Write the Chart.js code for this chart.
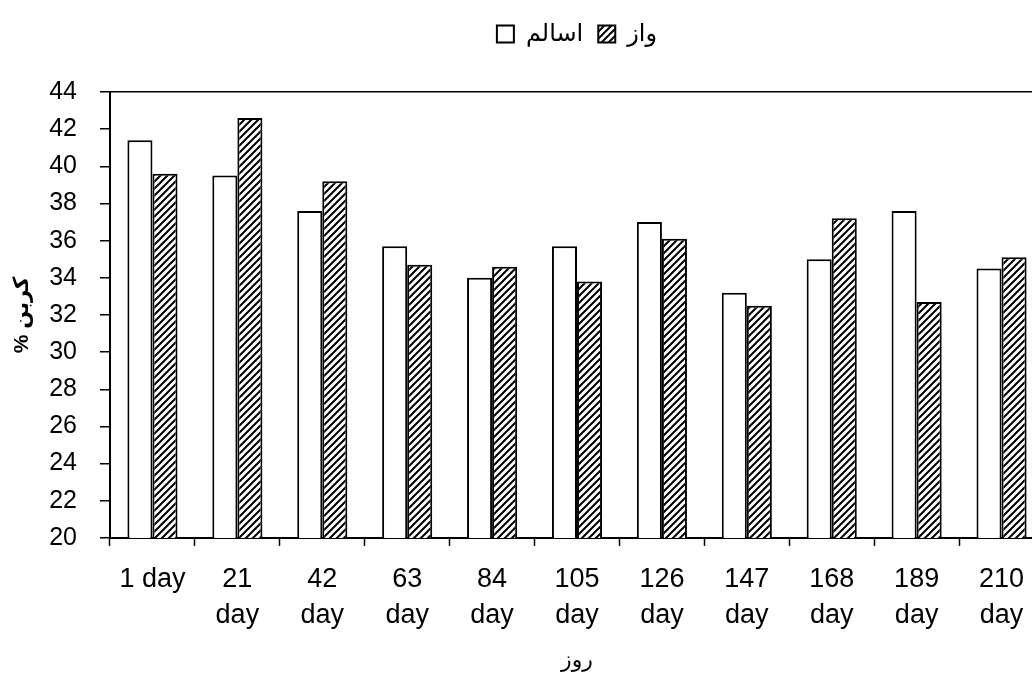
<!DOCTYPE html>
<html>
<head>
<meta charset="utf-8">
<script src="https://cdn.jsdelivr.net/npm/chart.js@4"></script>
<style>
  html, body { margin: 0; padding: 0; background: #fff; overflow: hidden; }
  #wrap { width: 1046px; height: 673px; }
</style>
</head>
<body>
<div id="wrap"><canvas id="carbonChart" width="1046" height="673"></canvas></div>
<script>
// sampling days (x axis)
const dayLabels = ['1 day', ['21', 'day'], ['42', 'day'], ['63', 'day'], ['84', 'day'], ['105', 'day'],
    ['126', 'day'], ['147', 'day'], ['168', 'day'], ['189', 'day'], ['210', 'day']];

// carbon % per group
const healthyValues = [41.4, 39.5, 37.6, 35.7, 34.0, 35.7, 37.0, 33.2, 35.0, 37.6, 34.5];
const waxValues = [39.6, 42.6, 39.2, 34.7, 34.6, 33.8, 36.1, 32.5, 37.2, 32.7, 35.1];

const seriesNames = ['اسالم', 'واز'];
const yTicks = { min: 20, max: 44, step: 2 };

const FONT = "Arial, 'Liberation Sans', 'DejaVu Sans', sans-serif";

// diagonal hatch for the second series
function makeHatch() {
    const c = document.createElement('canvas');
    c.width = 7;
    c.height = 7;
    const g = c.getContext('2d');
    g.fillStyle = '#fff';
    g.fillRect(0, 0, 7, 7);
    g.strokeStyle = '#000';
    g.lineWidth = 2;
    g.beginPath();
    g.moveTo(-1, 8); g.lineTo(8, -1);
    g.moveTo(-4, 4); g.lineTo(4, -4);
    g.moveTo(3, 11); g.lineTo(11, 3);
    g.stroke();
    return document.getElementById('carbonChart').getContext('2d').createPattern(c, 'repeat');
}

const ctx = document.getElementById('carbonChart').getContext('2d');

new Chart(ctx, {
    type: 'bar',
    data: {
        labels: dayLabels,
        datasets: [
            {
                label: seriesNames[0],
                data: healthyValues,
                backgroundColor: '#ffffff',
                borderColor: '#000',
                borderWidth: 2,
                categoryPercentage: 0.59,
                barPercentage: 1
            },
            {
                label: seriesNames[1],
                data: waxValues,
                backgroundColor: makeHatch(),
                borderColor: '#000',
                borderWidth: 2,
                categoryPercentage: 0.59,
                barPercentage: 1
            }
        ]
    },
    options: {
        responsive: false,
        animation: false,
        devicePixelRatio: 1,
        layout: { padding: { top: 7, left: 0, right: 2, bottom: 0 } },
        plugins: {
            legend: {
                position: 'top',
                fullSize: false,
                labels: {
                    color: '#000',
                    font: { family: FONT, size: 24 },
                    boxWidth: 17,
                    boxHeight: 17,
                    padding: 15
                }
            },
            // empty spacer between legend and plot
            title: {
                display: true,
                text: '',
                weight: 500,
                font: { size: 10, lineHeight: 1.2 },
                padding: { top: 12, bottom: 12 }
            },
            tooltip: { enabled: false }
        },
        scales: {
            x: {
                offset: true,
                grid: {
                    offset: true,
                    drawOnChartArea: false,
                    drawTicks: true,
                    tickLength: 8,
                    tickColor: '#000',
                    tickWidth: 1.5
                },
                border: { color: '#000', width: 2 },
                ticks: {
                    color: '#000',
                    font: { family: FONT, size: 27, lineHeight: 1.35 },
                    padding: 15,
                    maxRotation: 0,
                    minRotation: 0,
                    autoSkip: false
                },
                title: {
                    display: true,
                    text: 'روز',
                    color: '#000',
                    font: { family: FONT, size: 22, lineHeight: 1.1 },
                    padding: { top: 0, bottom: 0 }
                }
            },
            y: {
                min: yTicks.min,
                max: yTicks.max,
                afterFit: (scale) => { scale.width = 110; },
                grid: {
                    color: (c) => (c.tick && c.tick.value === yTicks.max ? '#000' : 'rgba(0,0,0,0)'),
                    lineWidth: 1.5,
                    tickLength: 10,
                    tickColor: '#000',
                    tickWidth: 1.5
                },
                border: { color: '#000', width: 2 },
                ticks: {
                    stepSize: yTicks.step,
                    color: '#000',
                    font: { family: FONT, size: 25 },
                    padding: 23
                },
                title: {
                    display: true,
                    text: '% کربن',
                    color: '#000',
                    font: { family: FONT, size: 21, weight: 'bold', lineHeight: 1.2 },
                    padding: { top: 10, bottom: 0 }
                }
            }
        }
    }
});
</script>
</body>
</html>
